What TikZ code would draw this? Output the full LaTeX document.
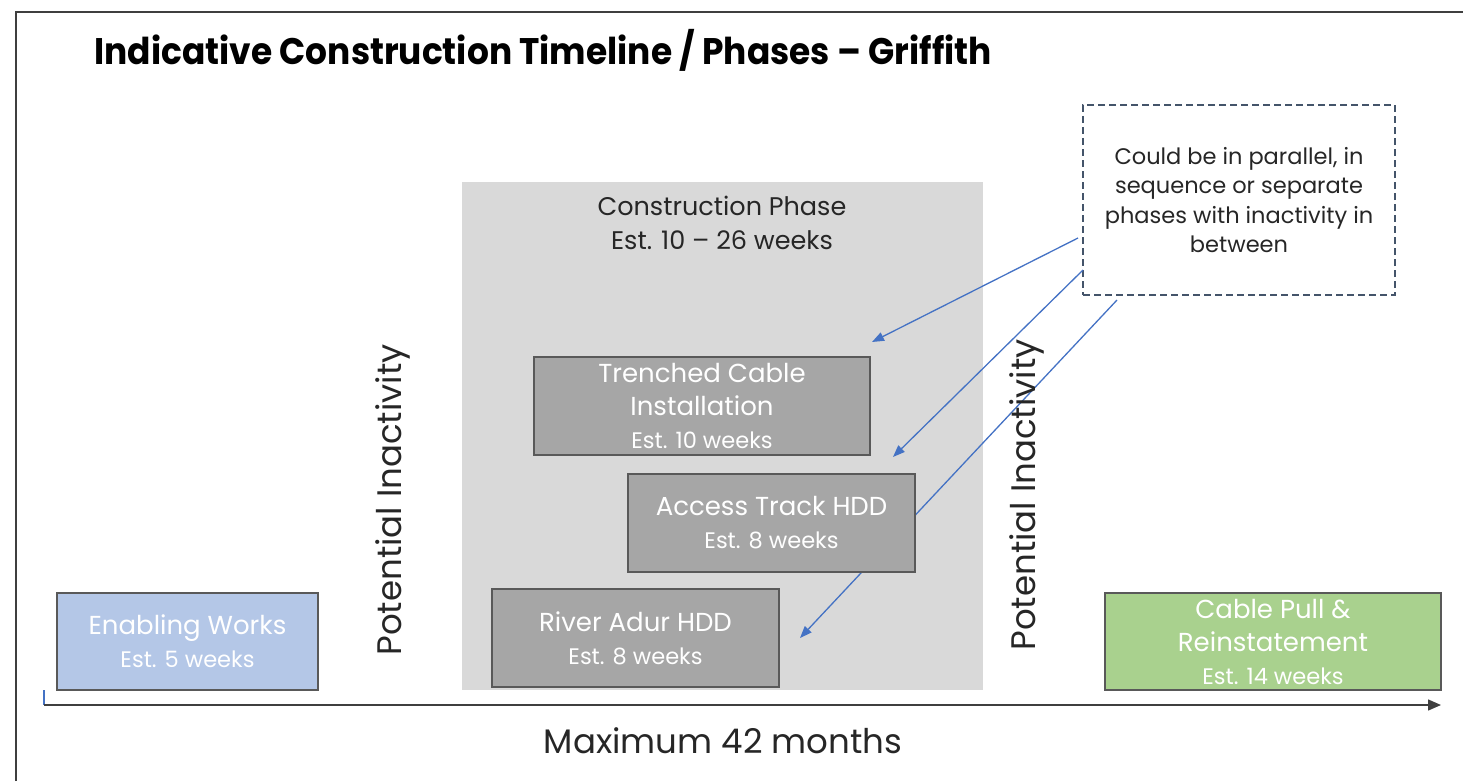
\documentclass[tikz,border=0pt]{standalone}
\usepackage{fontspec}
\setmainfont{Poppins}
\newfontfamily\titlefont{Poppins}[FakeStretch=0.93]
\usetikzlibrary{arrows.meta}

\definecolor{framegray}{HTML}{3F3F3F}
\definecolor{txtdark}{HTML}{262626}
\definecolor{panelgray}{HTML}{D9D9D9}
\definecolor{taskgray}{HTML}{A6A6A6}
\definecolor{edgegray}{HTML}{595959}
\definecolor{enablblue}{HTML}{B4C7E7}
\definecolor{pullgreen}{HTML}{A9D18E}
\definecolor{notegray}{HTML}{44546A}
\definecolor{arrowblue}{HTML}{4472C4}

\tikzset{
  taskbox/.style={draw=edgegray, line width=1.3pt, text=white, align=center,
    inner sep=0pt, font=\fontsize{26}{33}\selectfont},
  pointer/.style={draw=arrowblue, line width=1.3pt, -{Triangle[length=12pt,width=9pt]}},
  vlabel/.style={rotate=90, text=txtdark, font=\fontsize{34}{40}\selectfont},
}
\newcommand{\est}[1]{{\fontsize{22.5}{26}\selectfont #1}}

\begin{document}
\begin{tikzpicture}[x=1pt,y=-1pt]
  \path[use as bounding box] (0,0) rectangle (1463,781);

  % outer frame (top and left edges)
  \draw[framegray, line width=2.5pt] (16,781) -- (16,12) -- (1463,12);

  % title
  \node[anchor=west, text=black, font=\titlefont\bfseries\fontsize{37}{44}\selectfont] (title) at (91,50)
    {Indicative Construction Timeline / Phases – Griffith};

  % construction phase panel
  \node[fill=panelgray, minimum width=521pt, minimum height=508pt, inner sep=0pt] (panel) at (722.5,436) {};
  \node[text=txtdark, align=center, font=\fontsize{25.5}{34}\selectfont] (phase) at (722,223)
    {Construction Phase\\Est. 10 – 26 weeks};

  % callout note
  \node[draw=notegray, dashed, dash pattern=on 7pt off 4pt, line width=1.4pt,
        minimum width=312pt, minimum height=190pt, text=txtdark, align=center,
        font=\fontsize{22.5}{29.5}\selectfont] (note) at (1239,200)
    {Could be in parallel, in\\sequence or separate\\phases with inactivity in\\between};

  % pointers from the note to the construction tasks
  \coordinate (s1) at (1078,238);
  \coordinate (e1) at (872,342);
  \coordinate (s2) at (1083,270);
  \coordinate (e2) at (893,457);
  \coordinate (s3) at (1117,300);
  \coordinate (e3) at (800,638);
  \draw[pointer] (s1) -- (e1);
  \draw[pointer] (s2) -- (e2);
  \draw[pointer] (s3) -- (e3);

  % construction tasks
  \node[taskbox, fill=taskgray, minimum width=336pt, minimum height=98pt] (trench) at (702,406)
    {Trenched Cable\\Installation\\\est{Est. 10 weeks}};
  \node[taskbox, fill=taskgray, minimum width=287pt, minimum height=98pt] (access) at (771.5,523)
    {Access Track HDD\\\est{Est. 8 weeks}};
  \node[taskbox, fill=taskgray, minimum width=287pt, minimum height=98pt] (river) at (635.5,638)
    {River Adur HDD\\\est{Est. 8 weeks}};

  % enabling and closing works
  \node[taskbox, fill=enablblue, minimum width=261pt, minimum height=97pt] (enabling) at (187.5,641.5)
    {Enabling Works\\\est{Est. 5 weeks}};
  \node[taskbox, fill=pullgreen, minimum width=336pt, minimum height=97pt] (pull) at (1273,641.5)
    {Cable Pull \&\\Reinstatement\\\est{Est. 14 weeks}};

  % inactivity gaps
  \node[vlabel] (gap1) at (393,500) {Potential Inactivity};
  \node[vlabel] (gap2) at (1027,495) {Potential Inactivity};

  % time axis
  \coordinate (ax0) at (44,705);
  \coordinate (ax1) at (1441,705);
  \coordinate (tick) at (44,690);
  \draw[arrowblue, line width=1.2pt] (tick) -- (ax0);
  \draw[framegray, line width=1.4pt, -{Triangle[length=13pt,width=11pt]}] (ax0) -- (ax1);
  \node[text=txtdark, font=\fontsize{34}{40}\selectfont] (axislabel) at (723,741) {Maximum 42 months};
\end{tikzpicture}
\end{document}
